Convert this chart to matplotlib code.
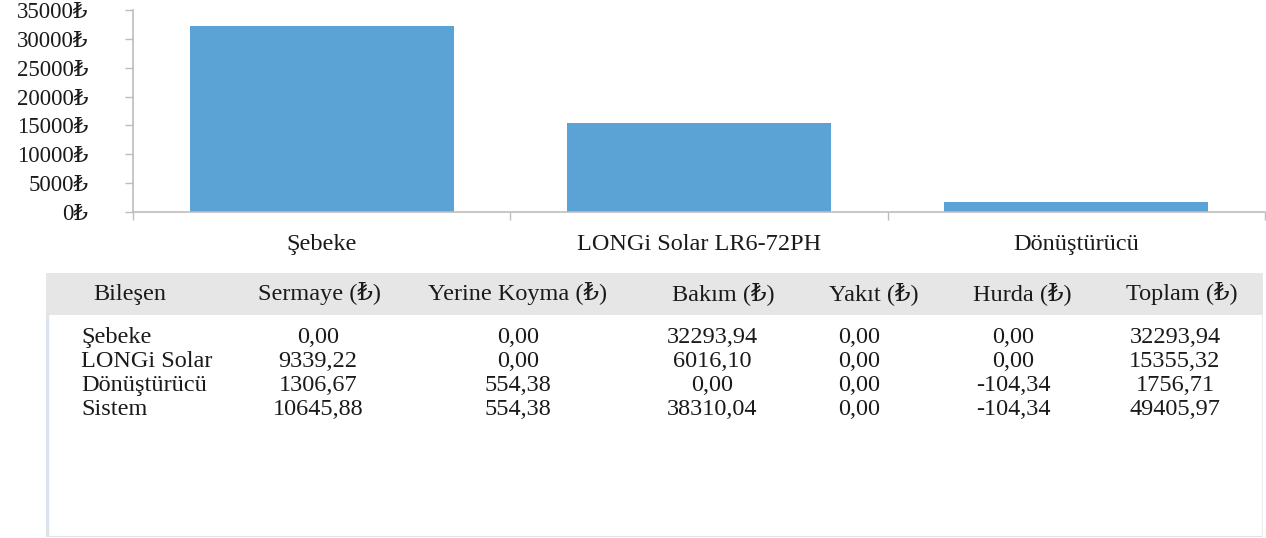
import matplotlib
matplotlib.use("Agg")
import matplotlib.pyplot as plt
from matplotlib.patches import Rectangle
import numpy as np

# Bar chart data (total cost per component)
components = ["Şebeke", "LONGi Solar LR6-72PH", "Dönüştürücü"]
bar_totals = [32293.94, 15355.32, 1756.71]
y_ticks = [0, 5000, 10000, 15000, 20000, 25000, 30000, 35000]

# Cost summary table
table_header = ["Bileşen", "Sermaye (₺)", "Yerine Koyma (₺)", "Bakım (₺)",
                "Yakıt (₺)", "Hurda (₺)", "Toplam (₺)"]
row_names = ["Şebeke", "LONGi Solar", "Dönüştürücü", "Sistem"]
sermaye = [0.00, 9339.22, 1306.67, 10645.88]
yerine_koyma = [0.00, 0.00, 554.38, 554.38]
bakim = [32293.94, 6016.10, 0.00, 38310.04]
yakit = [0.00, 0.00, 0.00, 0.00]
hurda = [0.00, 0.00, -104.34, -104.34]
toplam = [32293.94, 15355.32, 1756.71, 49405.97]

FONT = ["Liberation Serif", "DejaVu Serif", "DejaVu Sans"]
plt.rcParams["font.family"] = FONT
TXT = "#1a1a1a"
BAR = "#5BA3D4"
AXC = "#bdbdbd"

W, H = 1266, 538
fig = plt.figure(figsize=(W / 100, H / 100), dpi=100)


def px_box(x0, y0, x1, y1):
    return [x0 / W, 1 - y1 / H, (x1 - x0) / W, (y1 - y0) / H]


# ---- bar chart ----
ax = fig.add_axes(px_box(133, 10, 1265, 212))
x = np.arange(len(components))
ax.bar(x, bar_totals, width=0.7, color=BAR, zorder=2)
ax.set_xlim(-0.5, len(components) - 0.5)
ax.set_ylim(0, 35000)

ax.set_yticks(y_ticks)
ax.set_yticklabels([f"{v}₺" for v in y_ticks], fontsize=16.5, color=TXT)
ax.tick_params(axis="y", length=6, width=1, color=AXC, pad=26)

ax.set_xticks(x)
ax.set_xticklabels(components, fontsize=17.5, color=TXT)
ax.tick_params(axis="x", which="major", length=0, pad=16)
ax.set_xticks(np.arange(-0.5, len(components)), minor=True)
ax.tick_params(axis="x", which="minor", length=6, width=1, color=AXC)

for s in ["top", "right"]:
    ax.spines[s].set_visible(False)
for s in ["left", "bottom"]:
    ax.spines[s].set_color(AXC)
    ax.spines[s].set_linewidth(1.2)

# ---- table ----
tax = fig.add_axes(px_box(46, 273, 1263, 537))
tax.set_xlim(46, 1263)
tax.set_ylim(537, 273)
tax.axis("off")

tax.add_patch(Rectangle((46, 273), 1217, 42, facecolor="#e6e6e6",
                        edgecolor="none"))
tax.plot([46.5, 46.5], [315, 537], color="#dce3ec", lw=2.5)
tax.plot([46, 1263], [536.5, 536.5], color="#e2e2e2", lw=1.5)
tax.plot([1262.5, 1262.5], [315, 537], color="#ececec", lw=1.5)

head_x = [130, 320, 518, 723, 874, 1022, 1182]
for hx, label in zip(head_x, table_header):
    tax.text(hx, 300, label, ha="center", va="baseline", fontsize=17.5,
             color=TXT)

row_base = [343, 367, 391, 415]
val_x = [318, 518, 712, 859, 1013, 1175]
columns = [sermaye, yerine_koyma, bakim, yakit, hurda, toplam]
for i, name in enumerate(row_names):
    tax.text(81, row_base[i], name, ha="left", va="baseline", fontsize=17.5,
             color=TXT)
    for cx, col in zip(val_x, columns):
        tax.text(cx, row_base[i], f"{col[i]:.2f}".replace(".", ","),
                 ha="center", va="baseline", fontsize=17.5, color=TXT)

fig.savefig("out.png", dpi=100)
